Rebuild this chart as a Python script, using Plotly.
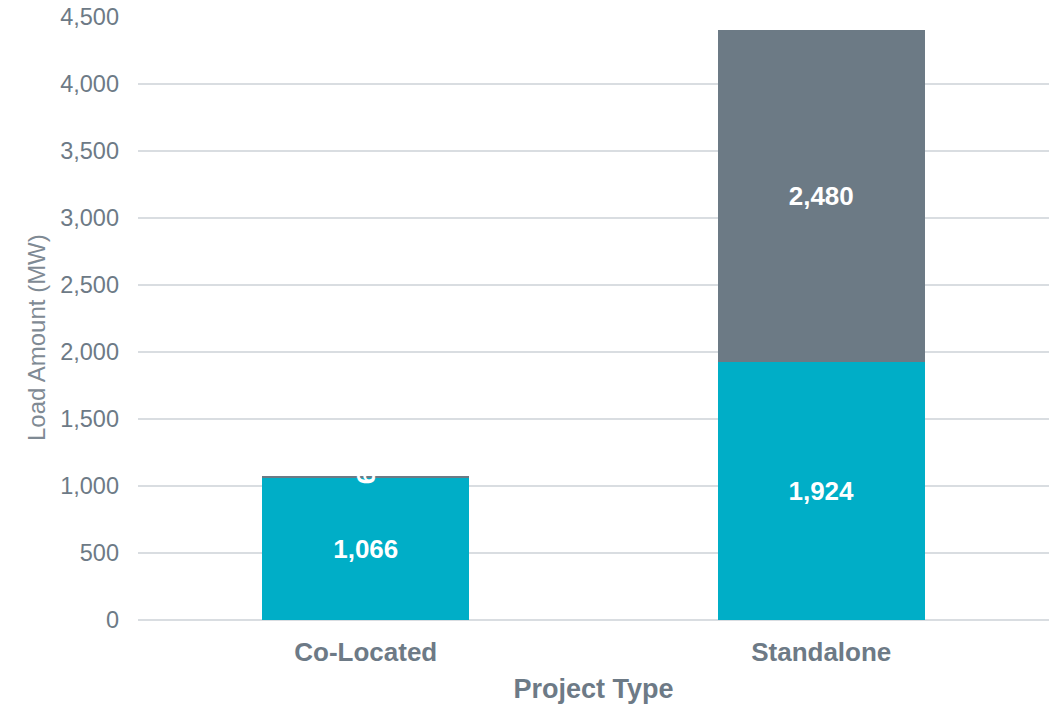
import plotly.graph_objects as go

categories = ["Co-Located", "Standalone"]
series_lower = [1066, 1924]
series_upper = [9, 2480]
y_ticks = [0, 500, 1000, 1500, 2000, 2500, 3000, 3500, 4000, 4500]
y_tick_labels = ["0", "500", "1,000", "1,500", "2,000", "2,500", "3,000", "3,500", "4,000", "4,500"]
y_title = "Load Amount (MW)"
x_title = "Project Type"

TEXT = "#6D7A86"
FONT = "Liberation Sans, Arial, sans-serif"

fig = go.Figure()
fig.add_trace(go.Bar(
    x=categories, y=series_lower, name="Lower",
    marker=dict(color="#00AEC7", line=dict(width=0)),
    text=[f"{v:,}" for v in series_lower], textposition="inside",
    insidetextanchor="middle", constraintext="none",
    textfont=dict(color="white", size=26, family=FONT, weight="bold"),
    hoverinfo="x+y",
))
fig.add_trace(go.Bar(
    x=categories, y=series_upper, name="Upper",
    marker=dict(color="#6C7A85", line=dict(width=0)),
    text=[f"{v:,}" for v in series_upper], textposition="inside",
    insidetextanchor="middle", constraintext="none",
    textfont=dict(color="white", size=26, family=FONT, weight="bold"),
    hoverinfo="x+y",
))

fig.update_layout(
    barmode="stack",
    bargap=0.546,
    width=1049, height=706,
    margin=dict(l=138, r=0, t=17, b=86),
    plot_bgcolor="white", paper_bgcolor="white",
    showlegend=False,
    font=dict(family=FONT, color=TEXT),
)
fig.update_xaxes(
    title=dict(text=f"<b>{x_title}</b>", font=dict(size=27, color=TEXT), standoff=13),
    tickfont=dict(size=26, color=TEXT, weight="bold"),
    showline=False, ticks="", ticklabelstandoff=14,
    automargin=False,
)
fig.update_yaxes(
    range=[0, 4500],
    tickvals=y_ticks, ticktext=y_tick_labels,
    tickfont=dict(size=23.5, color=TEXT),
    showgrid=True, gridcolor="#D9DDE1", gridwidth=1.5,
    zeroline=True, zerolinecolor="#D9DDE1", zerolinewidth=1.5,
    ticks="", ticklen=0, ticklabelstandoff=18,
    ticklabeloverflow="allow",
    automargin=False,
)
fig.add_annotation(
    text=y_title, textangle=-90,
    xref="paper", yref="paper", x=0, y=0.4677,
    xanchor="center", yanchor="middle", xshift=-101,
    showarrow=False,
    font=dict(size=24, color="#7F8A94", family=FONT),
)

fig.write_html(
    "out.html",
    config={"displayModeBar": False},
    post_script="document.body.style.margin='0';document.body.style.overflow='hidden';",
)
